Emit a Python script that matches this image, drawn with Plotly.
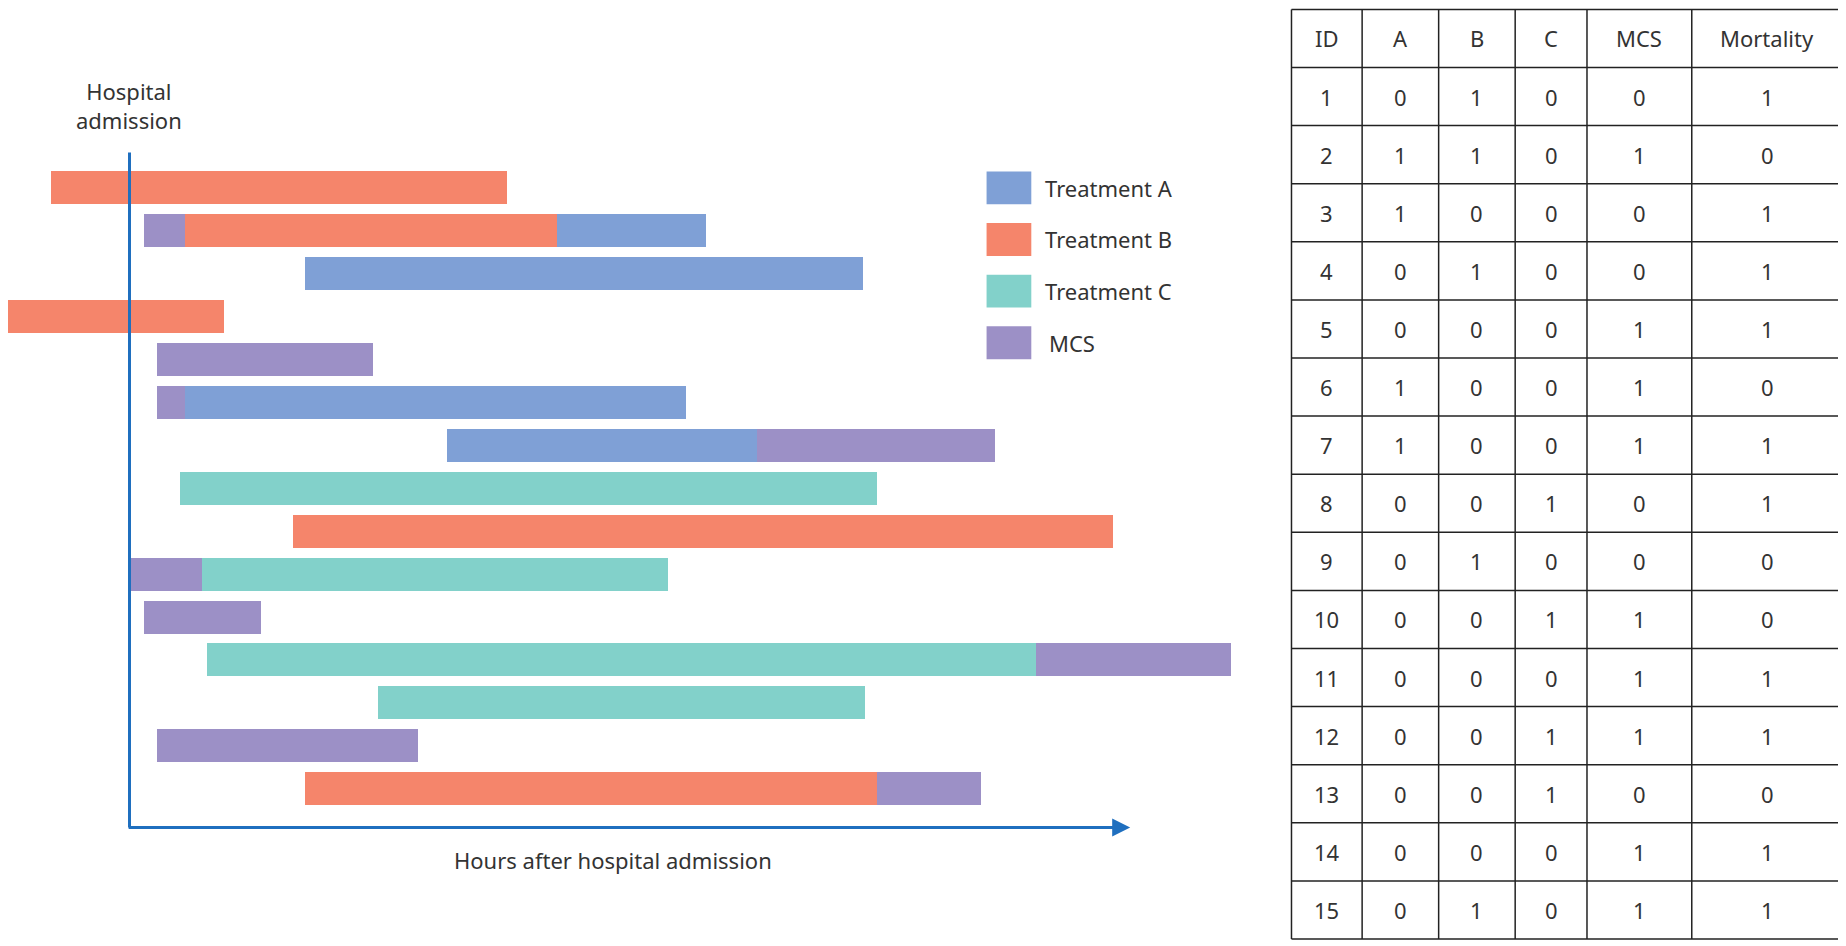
import plotly.graph_objects as go

W, H = 1568.0, 806.0  # reference layout units
OFF = 6.8  # page body margin, in reference units
colors = {"A": "#7FA0D6", "B": "#F5856B", "C": "#82D1CA", "MCS": "#9C90C6"}


def px(x):
    return (x - OFF) / W


def py(y):
    return 1 - (y - OFF) / H


# (patient id, treatment, start, end) in hours after admission (arbitrary units)
segments = [
    (1, "B", -67, 321),
    (2, "MCS", 12, 47), (2, "B", 47, 363), (2, "A", 363, 490),
    (3, "A", 149, 623),
    (4, "B", -105, 80),
    (5, "MCS", 23, 207),
    (6, "MCS", 23, 47), (6, "A", 47, 473),
    (7, "A", 270, 533), (7, "MCS", 533, 735),
    (8, "C", 43, 635),
    (9, "B", 139, 835),
    (10, "MCS", 1, 62), (10, "C", 62, 457),
    (11, "MCS", 12, 112),
    (12, "C", 66, 770), (12, "MCS", 770, 936),
    (13, "C", 211, 625),
    (14, "MCS", 23, 245),
    (15, "B", 149, 635), (15, "MCS", 635, 723),
]

fig = go.Figure()
for pid, tr, s, e in segments:
    fig.add_trace(go.Bar(y=[pid], x=[e - s], base=[s], orientation="h",
                         marker=dict(color=colors[tr], line_width=0),
                         width=0.77, showlegend=False, hoverinfo="skip"))

table = {
    "ID": list(range(1, 16)),
    "A": [0, 1, 1, 0, 0, 1, 1, 0, 0, 0, 0, 0, 0, 0, 0],
    "B": [1, 1, 0, 1, 0, 0, 0, 0, 1, 0, 0, 0, 0, 0, 1],
    "C": [0, 0, 0, 0, 0, 0, 0, 1, 0, 1, 0, 1, 1, 0, 0],
    "MCS": [0, 1, 0, 0, 1, 1, 1, 0, 0, 1, 1, 1, 0, 1, 1],
    "Mortality": [1, 0, 1, 1, 1, 0, 1, 1, 0, 0, 1, 1, 0, 1, 1],
}
txt = dict(family="Noto Sans", size=22, color="#333")
col_edges = [1097, 1157, 1222, 1287, 1348, 1437, 1565]
top, bot = 8, 800
row_h = (bot - top) / 16
line = dict(color="#222", width=1.5)
for xe in col_edges:
    fig.add_shape(type="line", xref="paper", yref="paper", x0=px(xe), x1=px(xe),
                  y0=py(top), y1=py(bot), line=line)
for r in range(17):
    ye = top + r * row_h
    fig.add_shape(type="line", xref="paper", yref="paper", x0=px(col_edges[0]),
                  x1=px(col_edges[-1]), y0=py(ye), y1=py(ye), line=line)
for c, (name, vals) in enumerate(table.items()):
    cx = px((col_edges[c] + col_edges[c + 1]) / 2)
    for r, v in enumerate([name] + vals):
        fig.add_annotation(xref="paper", yref="paper", x=cx, y=py(top + (r + 0.5) * row_h),
                           text=str(v), showarrow=False, xanchor="center",
                           yanchor="middle", font=txt)

ax = "#1F6FBF"
y_axis = 1 + (705 - 160) / 36.57
fig.add_shape(type="line", xref="x", yref="y", x0=0, x1=0,
              y0=y_axis, y1=1 - (160 - 130) / 36.57, line=dict(color=ax, width=3))
fig.add_annotation(xref="x", yref="y", axref="x", ayref="y",
                   x=850, y=y_axis, ax=-2, ay=y_axis, text="",
                   showarrow=True, arrowhead=2, arrowsize=1.2, arrowwidth=3, arrowcolor=ax)

fig.add_annotation(xref="paper", yref="paper", x=px(110), y=py(90),
                   text="Hospital<br>admission", showarrow=False, font=txt,
                   align="center", xanchor="center", yanchor="middle")
fig.add_annotation(xref="paper", yref="paper", x=px(521), y=py(733),
                   text="Hours after hospital admission", showarrow=False, font=txt,
                   xanchor="center", yanchor="middle")

for i, (k, lab) in enumerate([("A", "Treatment A"), ("B", "Treatment B"),
                              ("C", "Treatment C"), ("MCS", "MCS")]):
    cy = 160 + i * 44
    fig.add_shape(type="rect", xref="paper", yref="paper", x0=px(838), x1=px(876),
                  y0=py(cy + 14), y1=py(cy - 14), fillcolor=colors[k], line_width=0)
    fig.add_annotation(xref="paper", yref="paper", x=px(886 if k != "MCS" else 889),
                       y=py(cy), text=lab, showarrow=False,
                       xanchor="left", yanchor="middle", font=txt)

fig.update_layout(
    width=1846, height=946, margin=dict(l=0, r=0, t=0, b=0),
    plot_bgcolor="white", paper_bgcolor="white", barmode="overlay", bargap=0,
    xaxis=dict(domain=[0, 1060 / W], range=[-110 + OFF, 950 + OFF], visible=False),
    yaxis=dict(domain=[0, 1], range=[1 + (806 + OFF - 160) / 36.57,
                                     1 - (160 - OFF) / 36.57], visible=False),
)
fig.write_html("out.html")
